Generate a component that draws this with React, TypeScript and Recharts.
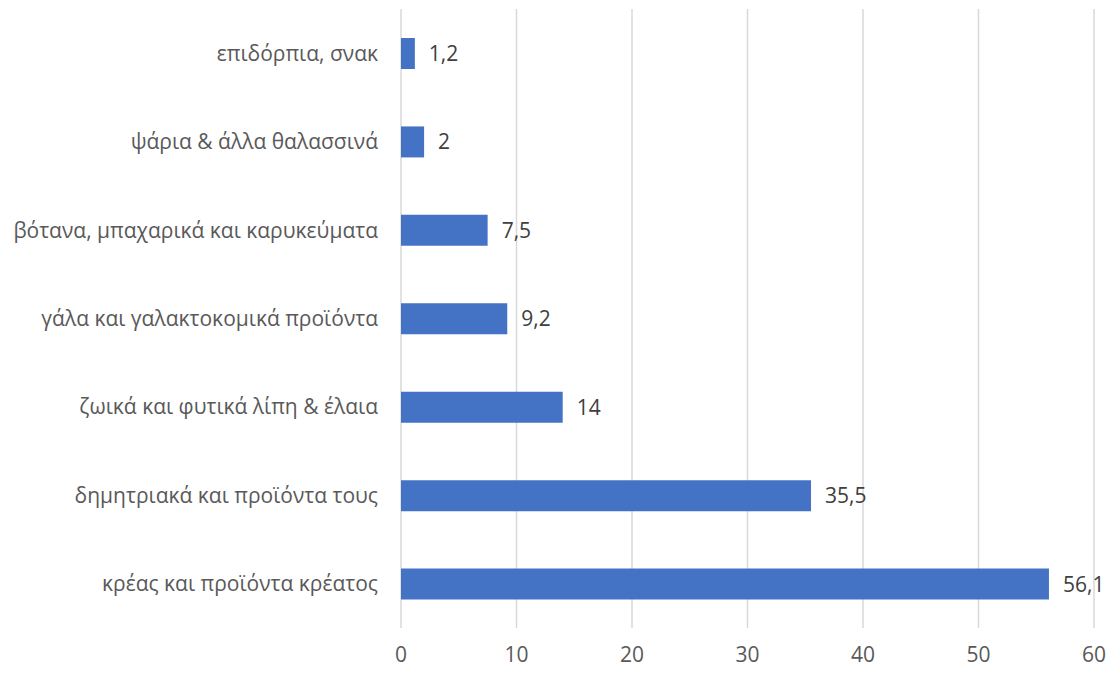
import { BarChart, Bar, XAxis, YAxis, CartesianGrid, LabelList } from "recharts";

const categories = [
  "επιδόρπια, σνακ",
  "ψάρια & άλλα θαλασσινά",
  "βότανα, μπαχαρικά και καρυκεύματα",
  "γάλα και γαλακτοκομικά προϊόντα",
  "ζωικά και φυτικά λίπη & έλαια",
  "δημητριακά και προϊόντα τους",
  "κρέας και προϊόντα κρέατος",
];
const values = [1.2, 2, 7.5, 9.2, 14, 35.5, 56.1];
const xTicks = [0, 10, 20, 30, 40, 50, 60];

const data = categories.map((name, i) => ({ name, value: values[i] }));

const font = "'Open Sans', 'Noto Sans', sans-serif";

export default function App() {
  return (
    <div style={{ position: "fixed", left: 0, top: 0, background: "#fff" }}>
      <BarChart
        width={1113}
        height={675}
        data={data}
        layout="vertical"
        margin={{ top: 9, right: 19, bottom: 0, left: 0 }}
      >
        <CartesianGrid horizontal={false} stroke="#d9d9d9" strokeWidth={1.5} />
        <XAxis
          type="number"
          domain={[0, 60]}
          ticks={xTicks}
          axisLine={false}
          tickLine={false}
          tickSize={0}
          tickMargin={19}
          height={47}
          tick={{ fill: "#595959", fontSize: 21, fontFamily: font }}
        />
        <YAxis
          type="category"
          dataKey="name"
          width={401}
          axisLine={false}
          tickLine={false}
          tickSize={0}
          tickMargin={23}
          interval={0}
          tick={{ fill: "#595959", fontSize: 21, fontFamily: font }}
        />
        <Bar dataKey="value" fill="#4472c4" barSize={31} isAnimationActive={false}>
          <LabelList
            dataKey="value"
            position="right"
            offset={14}
            formatter={(v: number) => String(v).replace(".", ",")}
            style={{ fill: "#404040", fontSize: 21, fontFamily: font }}
          />
        </Bar>
      </BarChart>
    </div>
  );
}
